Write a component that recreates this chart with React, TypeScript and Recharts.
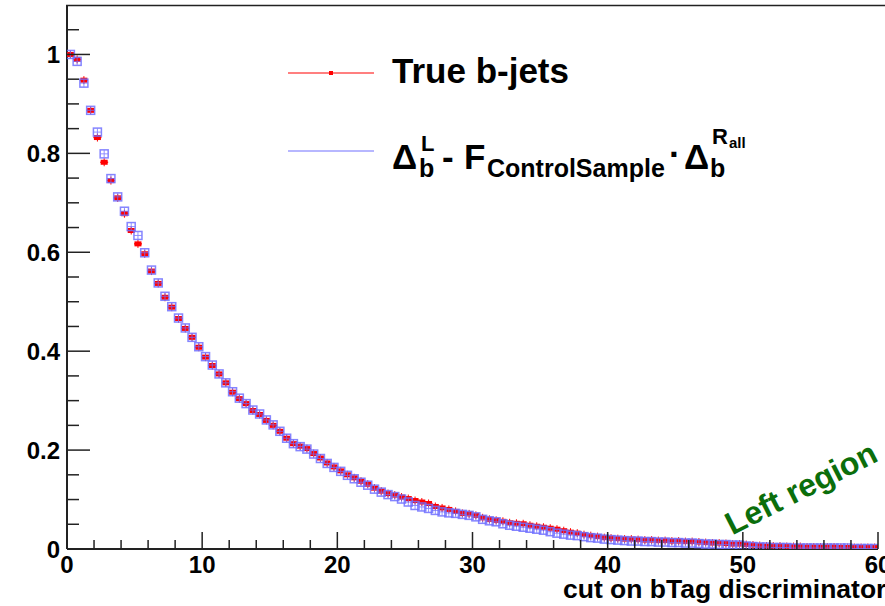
import React from 'react';
import { ScatterChart, Scatter, XAxis, YAxis } from 'recharts';

// histogram bins, 0.5 wide, starting at 0
const BIN_WIDTH = 0.5;

// "True b-jets" efficiency per bin
const TRUE_B = [
  1.0, 0.99, 0.948, 0.887, 0.832, 0.782, 0.745, 0.71, 0.678, 0.644,
  0.617, 0.597, 0.562, 0.537, 0.509, 0.489, 0.466, 0.446, 0.428, 0.408,
  0.388, 0.371, 0.354, 0.336, 0.317, 0.304, 0.294, 0.28, 0.272, 0.26,
  0.25, 0.238, 0.224, 0.213, 0.208, 0.203, 0.193, 0.184, 0.174, 0.166,
  0.158, 0.15, 0.144, 0.137, 0.131, 0.123, 0.117, 0.112, 0.109, 0.105,
  0.102, 0.098, 0.095, 0.092, 0.086, 0.083, 0.08, 0.076, 0.072, 0.071,
  0.068, 0.063, 0.06, 0.058, 0.056, 0.053, 0.052, 0.051, 0.048, 0.046,
  0.044, 0.042, 0.04, 0.037, 0.034, 0.032, 0.029, 0.027, 0.025, 0.023,
  0.022, 0.021, 0.02, 0.02, 0.019, 0.018, 0.018, 0.017, 0.017, 0.016,
  0.016, 0.015, 0.015, 0.014, 0.013, 0.012, 0.012, 0.011, 0.01, 0.01,
  0.009, 0.008, 0.007, 0.006, 0.006, 0.006, 0.005, 0.005, 0.005, 0.004,
  0.004, 0.004, 0.004, 0.004, 0.003, 0.003, 0.003, 0.003, 0.003, 0.003,
];

// control-sample estimate per bin
const CONTROL = [
  1.0, 0.986, 0.942, 0.887, 0.843, 0.799, 0.749, 0.712, 0.683, 0.652,
  0.634, 0.599, 0.564, 0.538, 0.511, 0.49, 0.467, 0.447, 0.428, 0.409,
  0.389, 0.372, 0.354, 0.336, 0.318, 0.305, 0.294, 0.281, 0.273, 0.261,
  0.251, 0.238, 0.224, 0.213, 0.207, 0.202, 0.192, 0.183, 0.173, 0.165,
  0.157, 0.149, 0.142, 0.135, 0.129, 0.121, 0.115, 0.11, 0.106, 0.101,
  0.095, 0.088, 0.085, 0.082, 0.078, 0.075, 0.073, 0.072, 0.07, 0.068,
  0.065, 0.06, 0.057, 0.055, 0.051, 0.048, 0.046, 0.044, 0.042, 0.04,
  0.038, 0.035, 0.032, 0.03, 0.028, 0.027, 0.025, 0.023, 0.022, 0.02,
  0.019, 0.018, 0.017, 0.016, 0.016, 0.015, 0.015, 0.014, 0.014, 0.013,
  0.013, 0.012, 0.012, 0.011, 0.01, 0.01, 0.009, 0.009, 0.008, 0.008,
  0.006, 0.005, 0.004, 0.004, 0.003, 0.003, 0.003, 0.002, 0.002, 0.002,
  0.002, 0.002, 0.002, 0.002, 0.002, 0.002, 0.001, 0.001, 0.001, 0.001,
];

const X_TICKS = [0, 2, 4, 6, 8, 10, 12, 14, 16, 18, 20, 22, 24, 26, 28, 30, 32, 34, 36, 38, 40, 42, 44, 46, 48, 50, 52, 54, 56, 58, 60];
const X_MAJOR = [0, 10, 20, 30, 40, 50, 60];
const X_LABELS = ['0', '10', '20', '30', '40', '50', '60'];

const Y_TICKS = [0, 0.05, 0.1, 0.15, 0.2, 0.25, 0.3, 0.35, 0.4, 0.45, 0.5, 0.55, 0.6, 0.65, 0.7, 0.75, 0.8, 0.85, 0.9, 0.95, 1, 1.05];
const Y_MAJOR = [0, 0.2, 0.4, 0.6, 0.8, 1];
const Y_LABELS = ['0', '0.2', '0.4', '0.6', '0.8', '1'];

const FONT = "'Liberation Sans', Arial, sans-serif";
const AXIS = '#222';
const RED = '#ff0000';
const BLUE = '#7070ff';

const toPoints = (vals: number[]) =>
  vals.map((y, i) => ({ x: i * BIN_WIDTH + BIN_WIDTH / 2, y }));

const redData = toPoints(TRUE_B);
const blueData = toPoints(CONTROL);

const majorIndex = (list: number[], v: number) => list.findIndex((m) => Math.abs(m - v) < 1e-6);

function XTick(props: any) {
  const { x, y, payload } = props;
  const idx = majorIndex(X_MAJOR, payload.value);
  const len = idx >= 0 ? 17 : 9;
  return (
    <g>
      <line x1={x} x2={x} y1={y} y2={y - len} stroke={AXIS} strokeWidth={1.5} />
      {idx >= 0 && (
        <text x={x} y={y + 24} textAnchor="middle" fontFamily={FONT} fontWeight="bold" fontSize={24} fill="#000">
          {X_LABELS[idx]}
        </text>
      )}
    </g>
  );
}

function YTick(props: any) {
  const { x, y, payload } = props;
  const idx = majorIndex(Y_MAJOR, payload.value);
  const len = idx >= 0 ? 23 : 12;
  return (
    <g>
      <line x1={x} x2={x + len} y1={y} y2={y} stroke={AXIS} strokeWidth={1.5} />
      {idx >= 0 && (
        <text x={x - 7} y={y + 9} textAnchor="end" fontFamily={FONT} fontWeight="bold" fontSize={24} fill="#000">
          {Y_LABELS[idx]}
        </text>
      )}
    </g>
  );
}

function RedMarker(props: any) {
  const { cx, cy } = props;
  return (
    <g>
      <line x1={cx - 4} x2={cx + 4} y1={cy} y2={cy} stroke={RED} strokeWidth={1.2} />
      <line x1={cx} x2={cx} y1={cy - 4} y2={cy + 4} stroke={RED} strokeWidth={1} />
      <rect x={cx - 3.5} y={cy - 2.5} width={7} height={5} fill={RED} />
    </g>
  );
}

function BlueMarker(props: any) {
  const { cx, cy } = props;
  return (
    <g stroke={BLUE} strokeWidth={1.5} fill="none" opacity={0.85}>
      <rect x={cx - 4} y={cy - 4} width={8} height={8} />
      <line x1={cx - 4} x2={cx + 4} y1={cy} y2={cy} strokeWidth={0.9} />
      <line x1={cx} x2={cx} y1={cy - 4} y2={cy + 4} strokeWidth={0.9} />
    </g>
  );
}

export default function App() {
  return (
    <div style={{ position: 'relative', width: 885, height: 606, overflow: 'hidden', background: '#fff' }}>
      <style>{'body { margin: 0; }'}</style>
      <ScatterChart width={885} height={606} margin={{ top: 5, right: 7, bottom: 56, left: 66 }}>
        <XAxis
          type="number"
          dataKey="x"
          domain={[0, 60]}
          ticks={X_TICKS}
          interval={0}
          height={1}
          tickSize={0}
          tickMargin={0}
          tick={<XTick />}
          tickLine={false}
          axisLine={{ stroke: AXIS, strokeWidth: 2 }}
          allowDataOverflow
        />
        <YAxis
          type="number"
          dataKey="y"
          domain={[0, 1.1]}
          ticks={Y_TICKS}
          interval={0}
          width={1}
          tickSize={0}
          tickMargin={0}
          tick={<YTick />}
          tickLine={false}
          axisLine={{ stroke: AXIS, strokeWidth: 2 }}
          allowDataOverflow
        />
        <Scatter name="True b-jets" data={redData} shape={<RedMarker />} isAnimationActive={false} />
        <Scatter name="Control sample" data={blueData} shape={<BlueMarker />} isAnimationActive={false} />
      </ScatterChart>

      <svg width={885} height={606} style={{ position: 'absolute', left: 0, top: 0, pointerEvents: 'none' }}>
        <line x1={66} x2={885} y1={5.5} y2={5.5} stroke={AXIS} strokeWidth={1.5} />

        {/* legend */}
        <line x1={288} x2={374} y1={73} y2={73} stroke={RED} strokeWidth={1.2} />
        <rect x={329} y={71} width={4} height={4} fill={RED} />
        <text x={392} y={83} fontFamily={FONT} fontWeight="bold" fontSize={35} fill="#000">True b-jets</text>

        <line x1={288} x2={374} y1={151} y2={151} stroke={BLUE} strokeWidth={1.2} />
        <g fontFamily={FONT} fontWeight="bold" fill="#000">
          <text x={392} y={169} fontSize={35}>Δ</text>
          <text x={421} y={151} fontSize={22}>L</text>
          <text x={419} y={177} fontSize={25}>b</text>
          <text x={442} y={169} fontSize={35}>-</text>
          <text x={464} y={169} fontSize={35}>F</text>
          <text x={487} y={177} fontSize={25}>ControlSample</text>
          <text x={669} y={166} fontSize={35}>·</text>
          <text x={684} y={169} fontSize={35}>Δ</text>
          <text x={712} y={144} fontSize={22}>R</text>
          <text x={729} y={148} fontSize={15}>all</text>
          <text x={710} y={177} fontSize={25}>b</text>
        </g>

        {/* annotation */}
        <text
          x={806}
          y={498}
          transform="rotate(-27 806 498)"
          textAnchor="middle"
          fontFamily={FONT}
          fontWeight="bold"
          fontSize={32}
          fill="#0b6e0b"
        >
          Left region
        </text>

        {/* x axis title */}
        <text x={563} y={598} fontFamily={FONT} fontWeight="bold" fontSize={26.5} fill="#000">
          cut on bTag discriminator
        </text>
      </svg>
    </div>
  );
}
